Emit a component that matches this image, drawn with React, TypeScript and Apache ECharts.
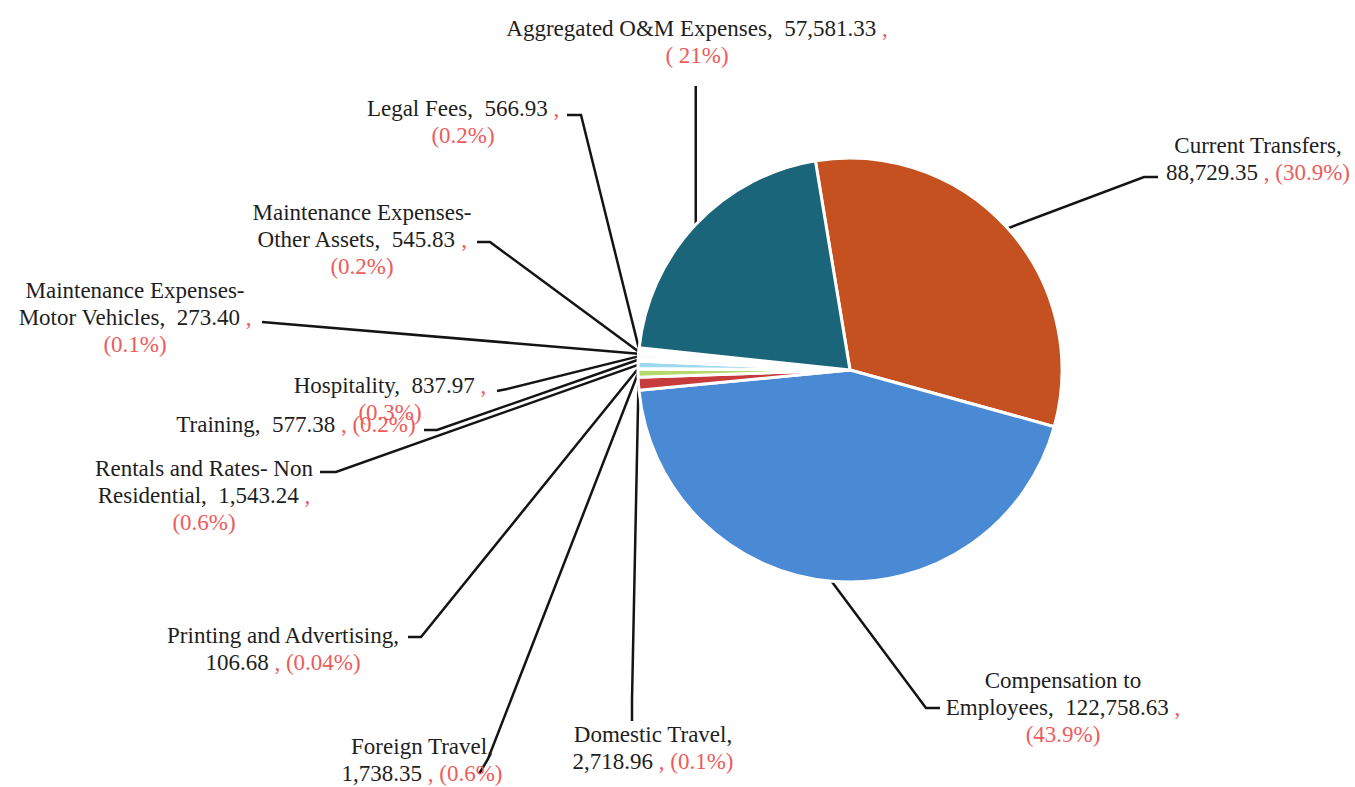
import React, { useEffect, useRef } from "react";
import * as echarts from "echarts";

// ---- data ----
const categories = [
  "Current Transfers",
  "Compensation to\nEmployees",
  "Domestic Travel",
  "Foreign Travel",
  "Printing and Advertising",
  "Rentals and Rates- Non\nResidential",
  "Training",
  "Hospitality",
  "Maintenance Expenses-\nMotor Vehicles",
  "Maintenance Expenses-\nOther Assets",
  "Legal Fees",
  "Aggregated O&M Expenses",
];
const values = [
  88729.35, 122758.63, 2718.96, 1738.35, 106.68, 1543.24, 577.38, 837.97,
  273.4, 545.83, 566.93, 57581.33,
];
const percentLabels = [
  "(30.9%)", "(43.9%)", "(0.1%)", "(0.6%)", "(0.04%)", "(0.6%)", "(0.2%)",
  "(0.3%)", "(0.1%)", "(0.2%)", "(0.2%)", "( 21%)",
];
// line breaks in each label: after the name, before the percentage
const breakAfterName = [true, false, true, true, true, false, false, false, false, false, false, false];
const breakBeforePct = [false, true, false, false, false, true, false, true, true, true, true, true];

// ---- styles / layout ----
const sliceColors = [
  "#C4511F", "#4A8AD4", "#C63B3B", "#B5D96A", "#EAF6F0", "#9ED8EE",
  "#F6F6F6", "#F6F6F6", "#F6F6F6", "#F6F6F6", "#F6F6F6", "#1A6579",
];
// label block: centre x, top y; leader line: elbow and end (null x = start x)
const labelLayouts: { x: number; y: number; elbow: (number | null)[]; end: (number | null)[] }[] = [
  { x: 1258, y: 132, elbow: [1144, 177], end: [1158, 177] },
  { x: 1063, y: 667, elbow: [926, 708], end: [940, 708] },
  { x: 653, y: 721, elbow: [632, 700], end: [632, 721] },
  { x: 422, y: 733, elbow: [488, 759], end: [479, 774] },
  { x: 283, y: 622, elbow: [421, 637], end: [408, 637] },
  { x: 204, y: 455, elbow: [336, 472], end: [320, 472] },
  { x: 296, y: 411, elbow: [437, 430], end: [424, 430] },
  { x: 390, y: 372, elbow: [507, 389], end: [497, 391] },
  { x: 135, y: 277, elbow: [262, 322], end: [262, 322] },
  { x: 362, y: 199, elbow: [490, 242], end: [477, 242] },
  { x: 463, y: 95, elbow: [581, 115], end: [567, 115] },
  { x: 697, y: 15, elbow: [null, 86], end: [null, 86] },
];

const FONT = "'Liberation Serif', 'Times New Roman', serif";
const FS = 23;
const LH = 27;

function fmt(v: number) {
  return v.toLocaleString("en-US", { minimumFractionDigits: 2, maximumFractionDigits: 2 });
}

export default function App() {
  const ref = useRef<HTMLDivElement>(null);
  useEffect(() => {
    document.body.style.margin = "0";
    if (!ref.current) return;
    const chart = echarts.init(ref.current, undefined, { renderer: "svg" });
    const data = categories.map((name, i) => ({
      name,
      value: values[i],
      itemStyle: { color: sliceColors[i] },
    }));
    chart.setOption({
      animation: false,
      backgroundColor: "#ffffff",
      series: [
        {
          type: "pie",
          center: [850, 370],
          radius: 212,
          startAngle: 99.4,
          clockwise: true,
          avoidLabelOverlap: false,
          data,
          itemStyle: { borderColor: "#ffffff", borderWidth: 3 },
          emphasis: { disabled: true },
          label: {
            show: true,
            position: "outside",
            overflow: "none",
            fontFamily: FONT,
            fontSize: FS,
            lineHeight: LH,
            color: "#1e1e1e",
            formatter: (p: any) => {
              const i = p.dataIndex;
              const nm = categories[i].replace(/\n/g, "}\n{n|");
              const sep1 = breakAfterName[i] ? ",}\n{n|" : ",  ";
              const sep2 = breakBeforePct[i] ? "\n" : " ";
              return `{n|${nm}${sep1}${fmt(values[i])} }{p|,}${sep2}{p|${percentLabels[i]}}`;
            },
            rich: {
              n: { fontFamily: FONT, fontSize: FS, lineHeight: LH, color: "#1e1e1e" },
              p: { fontFamily: FONT, fontSize: FS, lineHeight: LH, color: "#EE5B5B" },
            },
          },
          labelLine: {
            show: true,
            smooth: false,
            lineStyle: { color: "#141414", width: 2.5 },
          },
          labelLayout: (params: any) => {
            const i = params.dataIndex;
            const L = labelLayouts[i];
            const pts = params.labelLinePoints;
            const p0 = pts && pts[0] ? pts[0] : [850, 370];
            const elbow = [L.elbow[0] == null ? p0[0] : L.elbow[0], L.elbow[1]];
            const end = [L.end[0] == null ? p0[0] : L.end[0], L.end[1]];
            return {
              x: L.x,
              y: L.y,
              align: "center",
              verticalAlign: "top",
              labelLinePoints: [p0, elbow, end],
            };
          },
        },
      ],
    });
    return () => chart.dispose();
  }, []);
  return <div ref={ref} style={{ width: 1355, height: 787 }} />;
}
